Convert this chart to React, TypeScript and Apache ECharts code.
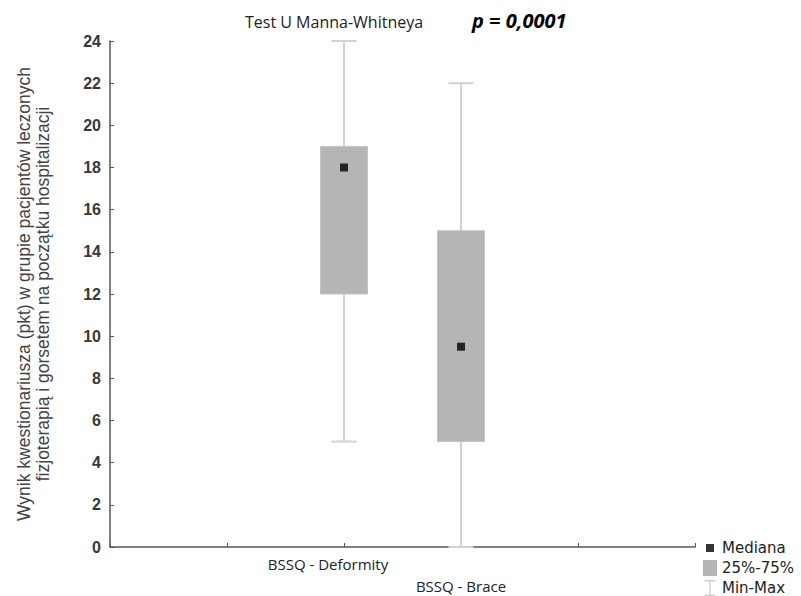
import React, { useEffect, useRef } from "react";
import * as echarts from "echarts";

const categories = ["", "", "BSSQ - Deformity", "BSSQ - Brace", "", ""];
// [categoryIndex, min, q1, median, q3, max]
const boxData = [
  [2, 5, 12, 18, 19, 24],
  [3, 0, 5, 9.5, 15, 22],
];
const medianData = [
  [2, 18],
  [3, 9.5],
];
const yMin = 0;
const yMax = 24;
const yInterval = 2;

const minMaxIcon =
  "path://M0,0h12v1.6h-5.2v14.8h5.2v1.6h-12v-1.6h5.2v-14.8h-5.2z";
const medianIcon =
  "path://M0,0h0.01v0.01h-0.01z M14,16h0.01v0.01h-0.01z M3,4h8v8h-8z";

export default function App() {
  const ref = useRef<HTMLDivElement>(null);
  useEffect(() => {
    const chart = echarts.init(ref.current!, undefined, { renderer: "svg" });
    chart.setOption({
      animation: false,
      backgroundColor: "#ffffff",
      title: [
        {
          text: "Test U Manna-Whitneya",
          left: 240,
          top: 9,
          textStyle: {
            fontFamily: "Open Sans",
            fontSize: 16,
            fontWeight: "normal",
            color: "#222",
          },
        },
        {
          text: "p = 0,0001",
          left: 467,
          top: 5,
          textStyle: {
            fontFamily: "Open Sans",
            fontSize: 20,
            fontWeight: "bold",
            fontStyle: "italic",
            color: "#000",
          },
        },
      ],
      grid: { left: 110, right: 106, top: 41, bottom: 49, outerBoundsMode: "none" },
      legend: {
        orient: "vertical",
        left: 698,
        top: 535,
        height: 80,
        itemWidth: 14,
        itemHeight: 16,
        itemGap: 4,
        textStyle: { fontFamily: "DejaVu Sans", fontSize: 15, color: "#222" },
        data: [
          { name: "Mediana", icon: medianIcon },
          { name: "25%-75%", icon: "rect" },
          { name: "Min-Max", icon: minMaxIcon },
        ],
      },
      xAxis: {
        type: "category",
        data: categories,
        boundaryGap: false,
        axisLine: { lineStyle: { color: "#555", width: 1.5 } },
        axisTick: { inside: true, length: 4, lineStyle: { color: "#555" } },
        axisLabel: {
          interval: 0,
          margin: 9,
          formatter: (v: string, i: number) =>
            v === "" ? "" : i === 2 ? "{a|" + v + "}" : "{b|" + v + "}",
          rich: {
            a: {
              fontFamily: "Open Sans",
              fontSize: 15,
              color: "#222",
              padding: [0, 32, 0, 0],
            },
            b: {
              fontFamily: "Open Sans",
              fontSize: 15,
              color: "#222",
              padding: [22, 0, 0, 0],
            },
          },
        },
        splitLine: { show: false },
      },
      yAxis: {
        type: "value",
        min: yMin,
        max: yMax,
        interval: yInterval,
        name:
          "Wynik kwestionariusza (pkt) w grupie pacjentów leczonych\nfizjoterapią i gorsetem na początku hospitalizacji",
        nameLocation: "middle",
        nameRotate: 90,
        nameGap: 58,
        nameTextStyle: {
          fontFamily: "Liberation Sans",
          fontSize: 17.5,
          lineHeight: 19,
          color: "#444",
        },
        axisLine: { show: true, lineStyle: { color: "#555", width: 1.5 } },
        axisTick: { show: true, inside: true, length: 4, lineStyle: { color: "#555" } },
        axisLabel: {
          fontFamily: "Liberation Sans",
          fontSize: 16,
          fontWeight: "bold",
          color: "#383838",
          margin: 9,
        },
        splitLine: { show: false },
      },
      series: [
        {
          name: "Min-Max",
          type: "custom",
          color: "#cfcfcf",
          data: boxData,
          encode: { x: 0, y: [1, 5] },
          renderItem: (params: any, api: any) => {
            const x = api.value(0);
            const lo = api.coord([x, api.value(1)]);
            const hi = api.coord([x, api.value(5)]);
            const cap = 12.5;
            const style = { stroke: "#d2d2d2", lineWidth: 2 };
            return {
              type: "group",
              children: [
                { type: "line", shape: { x1: lo[0], y1: lo[1], x2: hi[0], y2: hi[1] }, style },
                { type: "line", shape: { x1: lo[0] - cap, y1: lo[1], x2: lo[0] + cap, y2: lo[1] }, style },
                { type: "line", shape: { x1: hi[0] - cap, y1: hi[1], x2: hi[0] + cap, y2: hi[1] }, style },
              ],
            };
          },
        },
        {
          name: "25%-75%",
          type: "custom",
          color: "#b4b6b6",
          data: boxData,
          encode: { x: 0, y: [2, 4] },
          renderItem: (params: any, api: any) => {
            const x = api.value(0);
            const q1 = api.coord([x, api.value(2)]);
            const q3 = api.coord([x, api.value(4)]);
            const w = 47;
            return {
              type: "rect",
              shape: { x: q3[0] - w / 2, y: q3[1], width: w, height: q1[1] - q3[1] },
              style: { fill: "#b4b6b6", stroke: "#c2c4c4", lineWidth: 1 },
            };
          },
        },
        {
          name: "Mediana",
          type: "scatter",
          symbol: "rect",
          symbolSize: 8,
          itemStyle: { color: "#000" },
          data: medianData,
          z: 5,
        },
      ],
    });
    return () => chart.dispose();
  }, []);
  return (
    <div
      ref={ref}
      style={{ position: "fixed", left: 0, top: 0, width: 801, height: 596 }}
    />
  );
}
